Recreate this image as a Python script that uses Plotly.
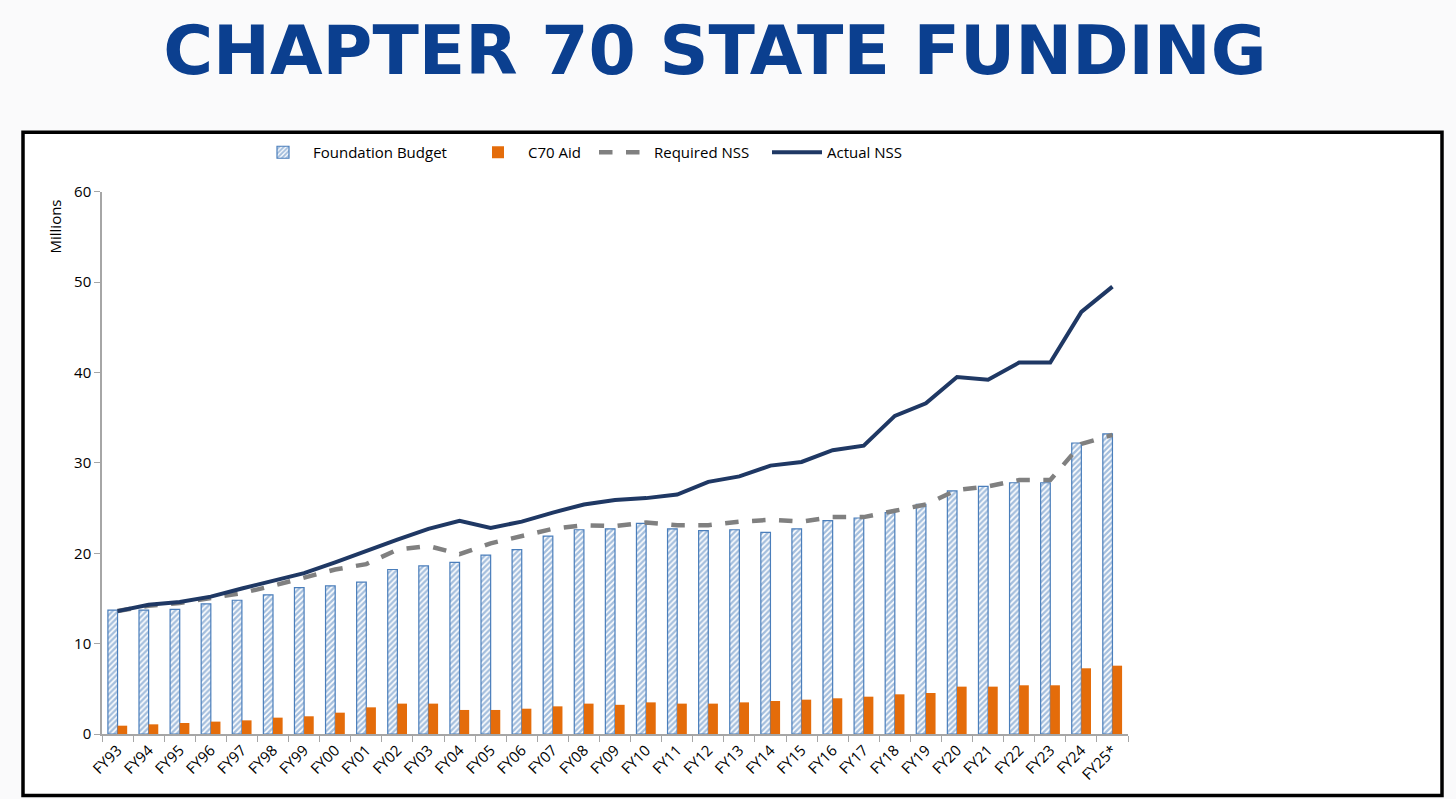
import plotly.graph_objects as go

# data (millions)
years = ["FY93", "FY94", "FY95", "FY96", "FY97", "FY98", "FY99", "FY00", "FY01",
         "FY02", "FY03", "FY04", "FY05", "FY06", "FY07", "FY08", "FY09", "FY10",
         "FY11", "FY12", "FY13", "FY14", "FY15", "FY16", "FY17", "FY18", "FY19",
         "FY20", "FY21", "FY22", "FY23", "FY24", "FY25*"]

foundation_budget = [13.7, 13.7, 13.8, 14.4, 14.8, 15.4, 16.2, 16.4, 16.8,
                     18.2, 18.6, 19.0, 19.8, 20.4, 21.9, 22.6, 22.7, 23.3,
                     22.7, 22.5, 22.6, 22.3, 22.7, 23.6, 23.9, 24.5, 25.4,
                     26.9, 27.4, 27.8, 27.8, 32.2, 33.2]

c70_aid = [0.92, 1.07, 1.22, 1.37, 1.51, 1.81, 1.96, 2.36, 2.95,
           3.36, 3.36, 2.66, 2.66, 2.80, 3.06, 3.36, 3.23, 3.5,
           3.36, 3.36, 3.5, 3.65, 3.8, 3.95, 4.13, 4.39, 4.54,
           5.24, 5.24, 5.39, 5.39, 7.27, 7.56]

required_nss = [13.6, 14.2, 14.5, 15.1, 15.6, 16.4, 17.3, 18.2, 18.8,
                20.4, 20.8, 19.9, 21.1, 21.9, 22.7, 23.1, 23.0, 23.4,
                23.1, 23.1, 23.5, 23.7, 23.5, 24.0, 24.0, 24.7, 25.4,
                27.0, 27.4, 28.1, 28.1, 32.1, 33.1]

actual_nss = [13.6, 14.3, 14.6, 15.2, 16.1, 16.9, 17.8, 19.0, 20.3,
              21.5, 22.7, 23.6, 22.8, 23.5, 24.5, 25.4, 25.9, 26.1,
              26.5, 27.9, 28.5, 29.7, 30.1, 31.4, 31.9, 35.2, 36.6,
              39.5, 39.2, 41.1, 41.1, 46.7, 49.5]

y_ticks = [0, 10, 20, 30, 40, 50, 60]

W, H = 1456, 799
blue = "#4A7EBB"
orange = "#E46C0A"
navy = "#1F3864"
grey = "#808080"
txt = "#000000"
font_body = "Open Sans"

fig = go.Figure()

fig.add_trace(go.Bar(
    x=years, y=foundation_budget, name="Foundation Budget", legend="legend",
    marker=dict(color="white", line=dict(color=blue, width=1.2),
                pattern=dict(shape="/", fgcolor=blue, bgcolor="white",
                             size=4, solidity=0.6)),
))
fig.add_trace(go.Bar(
    x=years, y=c70_aid, name="C70 Aid", legend="legend2",
    marker=dict(color=orange, line=dict(width=0)),
))
fig.add_trace(go.Scatter(
    x=years, y=required_nss, name="Required NSS", mode="lines", legend="legend3",
    line=dict(color=grey, width=4.5, dash="dash"),
))
fig.add_trace(go.Scatter(
    x=years, y=actual_nss, name="Actual NSS", mode="lines", legend="legend4",
    line=dict(color=navy, width=4),
))

# one legend per entry so each sits where it does in the original
def legend_at(px_text_start):
    return dict(orientation="h", x=(px_text_start - 60) / W, y=1 - 136 / H,
                xref="container", yref="container", xanchor="left", yanchor="top",
                font=dict(size=15, color=txt), itemwidth=50,
                bgcolor="rgba(0,0,0,0)")

# the legends push the top margin down a few px, so ask for a bit less
plot_top, plot_bottom = 188, 734
fig.update_layout(
    width=W, height=H,
    paper_bgcolor="#FAFAFB",
    plot_bgcolor="white",
    margin=dict(l=102, r=W - 1128, t=plot_top - 6, b=H - plot_bottom),
    barmode="group", bargap=0.38, bargroupgap=0,
    font=dict(family=font_body, size=14, color=txt),
    showlegend=True,
    legend=legend_at(313),
    legend2=legend_at(528),
    legend3=legend_at(654),
    legend4=legend_at(827),
    title=dict(text="<b>CHAPTER 70 STATE FUNDING</b>", x=0.491, xref="container",
               xanchor="center", y=1 - 50 / H, yanchor="middle",
               font=dict(family="DejaVu Sans", size=68, color="#0B3F8F")),
)

fig.update_xaxes(
    showgrid=False, showline=True, linecolor="#A6A6A6", linewidth=1.5,
    ticks="outside", tickson="boundaries", ticklen=6, tickcolor="#A6A6A6",
    tickangle=-45, tickfont=dict(size=15, color=txt),
)
fig.update_yaxes(
    range=[0, 60], tickvals=y_ticks, showgrid=False, zeroline=False,
    showline=True, linecolor="#A6A6A6", linewidth=1.5,
    ticks="outside", ticklen=6, tickcolor="#A6A6A6",
    tickfont=dict(size=15, color=txt),
)

# white framed box around the chart
plot_w, plot_h = 1128 - 102, plot_bottom - plot_top
fig.add_shape(type="rect", xref="paper", yref="paper",
              x0=(23 - 102) / plot_w, x1=(1442 - 102) / plot_w,
              y0=-(796 - plot_bottom) / plot_h, y1=1 + (plot_top - 128) / plot_h,
              line=dict(color="black", width=3.5), fillcolor="white", layer="below")

fig.add_annotation(text="Millions", xref="paper", yref="paper",
                   x=(55 - 102) / plot_w, y=1 - (223 - plot_top) / plot_h, textangle=-90,
                   showarrow=False, font=dict(size=15, color=txt),
                   xanchor="center", yanchor="middle")

# drop the default page margin so the figure lines up with the window
fig.write_html("out.html", config={"displayModeBar": False},
               post_script="document.body.style.margin='0';")
